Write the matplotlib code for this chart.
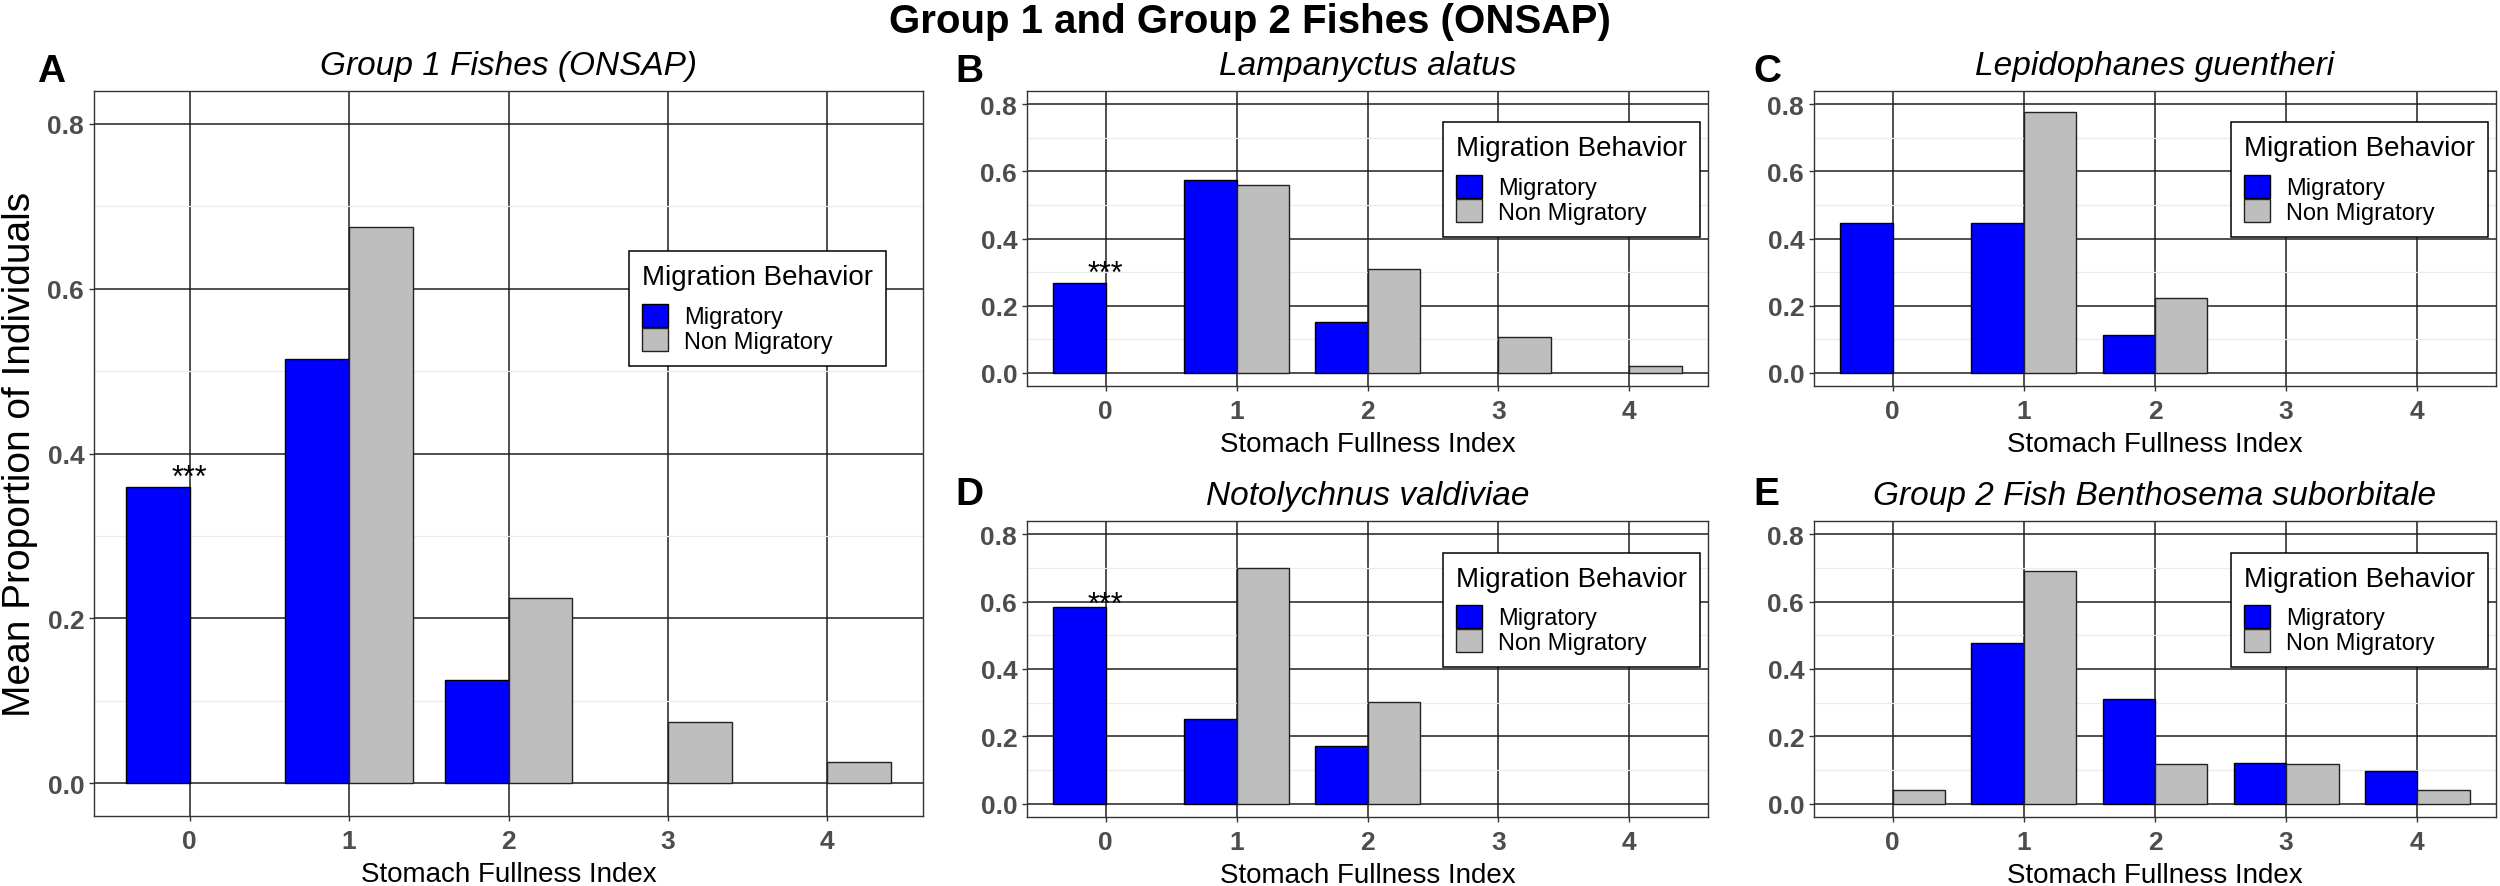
import matplotlib
matplotlib.use('Agg')
import matplotlib.pyplot as plt
from matplotlib.patches import Patch
from matplotlib.ticker import MultipleLocator
import numpy as np

plt.rcParams['font.family'] = ['Liberation Sans', 'DejaVu Sans']

# ---------------- data ----------------
categories = [0, 1, 2, 3, 4]
series_names = ['Migratory', 'Non Migratory']

titles = ['Group 1 Fishes (ONSAP)', 'Lampanyctus alatus', 'Lepidophanes guentheri',
          'Notolychnus valdiviae', 'Group 2 Fish Benthosema suborbitale']
panel_letters = ['A', 'B', 'C', 'D', 'E']

A_mig = [0.359, 0.515, 0.125, 0.0, 0.0]
A_non = [0.0, 0.675, 0.225, 0.074, 0.025]
B_mig = [0.267, 0.574, 0.150, 0.0, 0.0]
B_non = [0.0, 0.561, 0.310, 0.107, 0.020]
C_mig = [0.445, 0.445, 0.111, 0.0, 0.0]
C_non = [0.0, 0.778, 0.222, 0.0, 0.0]
D_mig = [0.585, 0.251, 0.170, 0.0, 0.0]
D_non = [0.0, 0.700, 0.302, 0.0, 0.0]
E_mig = [0.0, 0.476, 0.311, 0.121, 0.096]
E_non = [0.039, 0.691, 0.117, 0.117, 0.039]

# significance marks: (category, y position) per panel
sig_A = [(0, 0.383)]
sig_B = [(0, 0.323)]
sig_C = []
sig_D = [(0, 0.621)]
sig_E = []

y_ticks = [0.0, 0.2, 0.4, 0.6, 0.8]

suptitle = 'Group 1 and Group 2 Fishes (ONSAP)'
ylabel = 'Mean Proportion of Individuals'
xlabel = 'Stomach Fullness Index'
legend_title = 'Migration Behavior'

# ---------------- style ----------------
COL_MIG = '#0000FF'
COL_NON = '#BEBEBE'
W, H = 2500, 887

fig = plt.figure(figsize=(W / 100, H / 100), dpi=100)
fig.patch.set_facecolor('white')


def rect(l, t, r, b):
    return [l / W, 1 - b / H, (r - l) / W, (b - t) / H]


layout = [
    (94, 92, 923, 817),
    (1027, 92, 1708, 387),
    (1814, 92, 2496, 387),
    (1027, 522, 1708, 818),
    (1814, 522, 2496, 818),
]
letter_pos = [(37, 82), (955, 82), (1753, 82), (955, 505), (1753, 505)]

data = [(A_mig, A_non, sig_A), (B_mig, B_non, sig_B), (C_mig, C_non, sig_C),
        (D_mig, D_non, sig_D), (E_mig, E_non, sig_E)]

x = np.array(categories, dtype=float)
bw = 0.4

for i, (box, (mig, non, sig)) in enumerate(zip(layout, data)):
    ax = fig.add_axes(rect(*box))
    ax.set_facecolor('white')
    ax.set_axisbelow(True)
    lw_m = [1.0 if v > 0 else 0.0 for v in mig]
    lw_n = [1.0 if v > 0 else 0.0 for v in non]
    ax.bar(x - bw / 2, mig, width=bw, color=COL_MIG, edgecolor='black', linewidth=lw_m, zorder=3)
    ax.bar(x + bw / 2, non, width=bw, color=COL_NON, edgecolor='#222222', linewidth=lw_n, zorder=3)
    for (cx, cy) in sig:
        ax.annotate('***', xy=(cx, cy), xytext=(0, -13), textcoords='offset points',
                    ha='center', va='baseline', fontsize=22, color='black', zorder=4)

    ax.set_xlim(-0.6, 4.6)
    ax.set_ylim(-0.04, 0.84)
    ax.set_xticks(categories)
    ax.set_xticklabels([str(c) for c in categories], fontweight='bold')
    ax.set_yticks(y_ticks)
    ax.set_yticklabels(['%.1f' % v for v in y_ticks], fontweight='bold')
    ax.yaxis.set_minor_locator(MultipleLocator(0.1))
    ax.tick_params(axis='y', which='minor', length=0)
    ax.tick_params(axis='both', which='major', length=3.6, width=1.0, color='#333333',
                   labelsize=19, labelcolor='#4D4D4D')
    ax.tick_params(axis='x', which='major', pad=5.5)
    ax.tick_params(axis='y', which='major', pad=3.5)
    ax.grid(which='major', axis='both', color='#1f1f1f', linewidth=1.1)
    ax.grid(which='minor', axis='y', color='#EBEBEB', linewidth=0.9)
    for sp in ax.spines.values():
        sp.set_color('#333333')
        sp.set_linewidth(1.0)

    ax.set_title(titles[i], fontsize=24, style='italic', pad=12)
    ax.set_xlabel(xlabel, fontsize=20, labelpad=6)

    handles = [Patch(facecolor=COL_MIG, edgecolor='black', linewidth=1.0),
               Patch(facecolor=COL_NON, edgecolor='#222222', linewidth=1.0)]
    leg = ax.legend(handles, series_names, title=legend_title, loc='center',
                    bbox_to_anchor=(0.8, 0.7), fontsize=17, title_fontsize=20,
                    frameon=True, fancybox=False, edgecolor='black', framealpha=1,
                    alignment='left', handlelength=1.1, handleheight=1.12,
                    handletextpad=0.68, labelspacing=0.0, borderpad=0.55,
                    borderaxespad=0.0)
    # gap between legend title and its entries (points)
    leg._legend_box.sep = 9.5
    leg.get_frame().set_linewidth(1.1)
    leg.set_zorder(6)

    lx, ly = letter_pos[i]
    fig.text(lx / W, 1 - ly / H, panel_letters[i], fontsize=28, fontweight='bold',
             ha='left', va='baseline')

fig.text(20 / W, 1 - 454.5 / H, ylabel, rotation=90, ha='center', va='center', fontsize=28)
fig.text(0.5, 1 - 33 / H, suptitle, ha='center', va='baseline', fontsize=29, fontweight='bold')

fig.savefig('out.png', dpi=100, facecolor='white')
